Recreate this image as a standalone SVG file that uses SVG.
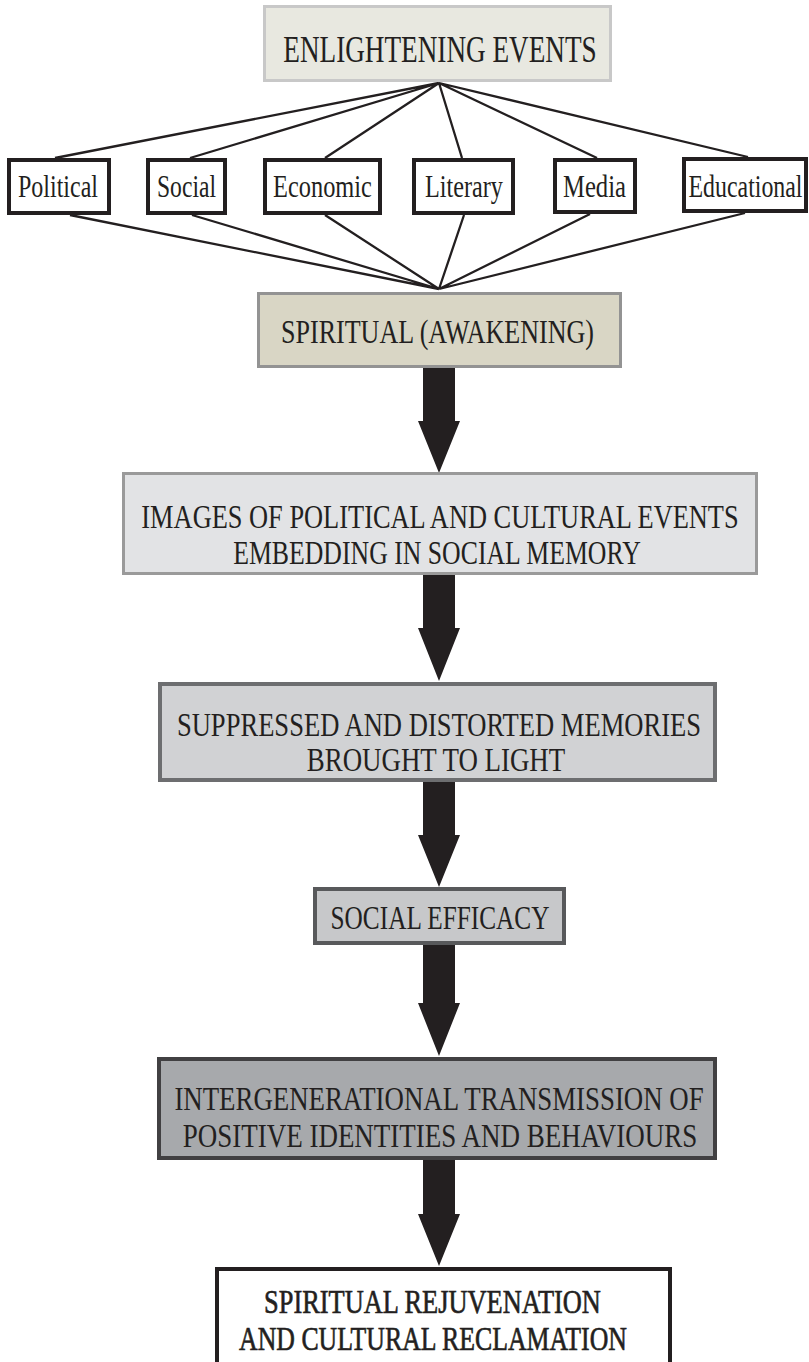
<svg xmlns="http://www.w3.org/2000/svg" width="809" height="1362" viewBox="0 0 809 1362">
<style>
text{font-family:"Liberation Serif","DejaVu Serif",serif;fill:#231f20;text-anchor:middle}
.k{fill:#fff;stroke:#231f20;stroke-width:4}
.ln{stroke:#231f20;stroke-width:2.3;fill:none}
.ar{fill:#231f20}
.b{stroke:#231f20;stroke-width:0.5}
</style>
<rect width="809" height="1362" fill="#fff"/>
<g id="connectors">
<path class="ln" d="M439,83 L55,158 M439,83 L190,158 M439,83 L325,158 M439,83 L462,158 M439,83 L597,158 M439,83 L748,157"/>
<path class="ln" d="M439,289 L70,215 M439,289 L192,215 M439,289 L325,215 M439,289 L464,215 M439,289 L590,214 M439,289 L745,213"/>
<path class="ar" d="M423,368 H455 V421 H460 L439,473 L418,421 H423 Z"/>
<path class="ar" d="M423,575 H455 V628 H460 L439,681 L418,628 H423 Z"/>
<path class="ar" d="M423,782 H455 V835 H460 L439,887 L418,835 H423 Z"/>
<path class="ar" d="M423,945 H455 V1003 H460 L439,1056 L418,1003 H423 Z"/>
<path class="ar" d="M423,1160 H455 V1214 H460 L439,1266 L418,1214 H423 Z"/>
</g>
<g id="enlightening">
<rect x="264.5" y="6.5" width="346" height="74" fill="#e8e8e0" stroke="#c8c8c8" stroke-width="3"/>
<text x="440" y="62" font-size="27.2" transform="matrix(1 0 0 1.397 0 -24.6)">ENLIGHTENING EVENTS</text>
</g>
<g id="political"><rect class="k" x="9" y="160" width="100" height="53"/><text x="58" y="197" font-size="24" transform="matrix(1 0 0 1.333 0 -65.6)">Political</text></g>
<g id="social"><rect class="k" x="148" y="160" width="77" height="53"/><text x="186.5" y="197" font-size="23.6" transform="matrix(1 0 0 1.356 0 -70.1)">Social</text></g>
<g id="economic"><rect class="k" x="265" y="160" width="115" height="53"/><text x="322.5" y="197" font-size="24.4" transform="matrix(1 0 0 1.311 0 -61.3)">Economic</text></g>
<g id="literary"><rect class="k" x="414" y="160" width="99" height="53"/><text x="464" y="197" font-size="24.2" transform="matrix(1 0 0 1.322 0 -63.4)">Literary</text></g>
<g id="media"><rect class="k" x="555" y="160" width="80" height="52"/><text x="594.5" y="197" font-size="24.66" transform="matrix(1 0 0 1.298 0 -58.7)">Media</text></g>
<g id="educational"><rect class="k" x="684" y="159" width="122" height="52"/><text x="745.5" y="197" font-size="23.86" transform="matrix(1 0 0 1.341 0 -67.2)">Educational</text></g>
<g id="spiritual-awakening">
<rect x="258.5" y="293.5" width="362" height="73" fill="#d9d6c5" stroke="#939393" stroke-width="3"/>
<text x="437.5" y="343" font-size="26.05" transform="matrix(1 0 0 1.305 0 -104.6)">SPIRITUAL (AWAKENING)</text>
</g>
<g id="images">
<rect x="123.5" y="473.5" width="633" height="100" fill="#e2e3e5" stroke="#9a9a9a" stroke-width="3"/>
<text x="440" y="528" font-size="26.4" transform="matrix(1 0 0 1.288 0 -152.1)">IMAGES OF POLITICAL AND CULTURAL EVENTS</text>
<text x="437" y="564" font-size="25.76" transform="matrix(1 0 0 1.32 0 -180.5)">EMBEDDING IN SOCIAL MEMORY</text>
</g>
<g id="suppressed">
<rect x="160" y="684" width="555" height="96" fill="#d1d2d4" stroke="#6d6e70" stroke-width="4"/>
<text x="439" y="736" font-size="26.58" transform="matrix(1 0 0 1.279 0 -205.3)">SUPPRESSED AND DISTORTED MEMORIES</text>
<text x="436" y="771" font-size="26.9" transform="matrix(1 0 0 1.264 0 -203.5)">BROUGHT TO LIGHT</text>
</g>
<g id="social-efficacy">
<rect x="315" y="889" width="249" height="54" fill="#c7c8ca" stroke="#58595b" stroke-width="4"/>
<text x="440" y="929" font-size="25.3" transform="matrix(1 0 0 1.344 0 -319.6)">SOCIAL EFFICACY</text>
</g>
<g id="intergenerational">
<rect x="159" y="1059" width="556" height="99" fill="#a7a9ac" stroke="#414042" stroke-width="4"/>
<text x="439" y="1110" font-size="26.85" transform="matrix(1 0 0 1.266 0 -295.3)">INTERGENERATIONAL TRANSMISSION OF</text>
<text x="440" y="1147" font-size="27" transform="matrix(1 0 0 1.259 0 -297.1)">POSITIVE IDENTITIES AND BEHAVIOURS</text>
</g>
<g id="rejuvenation">
<rect class="k" x="217" y="1269" width="453" height="110"/>
<text class="b" x="432.5" y="1313" font-size="26.4" transform="matrix(1 0 0 1.288 0 -378.1)">SPIRITUAL REJUVENATION</text>
<text class="b" x="433" y="1350" font-size="25.8" transform="matrix(1 0 0 1.318 0 -429.3)">AND CULTURAL RECLAMATION</text>
</g>
</svg>
